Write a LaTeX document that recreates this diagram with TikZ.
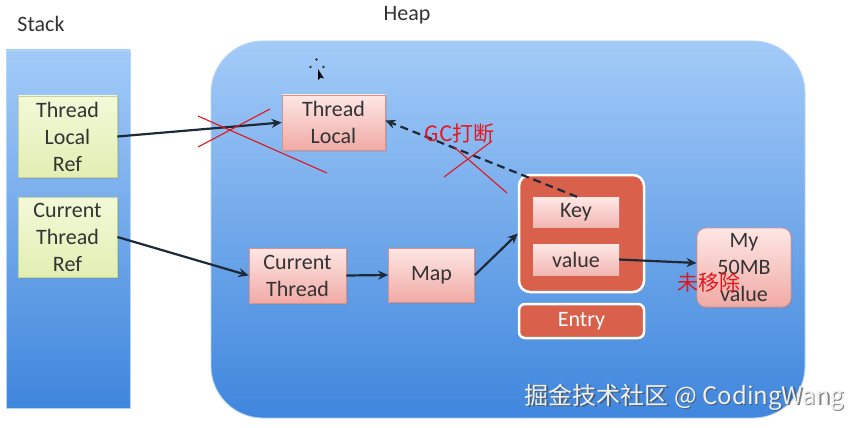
\documentclass[tikz,border=0pt]{standalone}
\usepackage{fontspec}
\setmainfont{Carlito}
\newfontfamily\cjk{Noto Sans CJK SC}
\usetikzlibrary{arrows.meta,shadows}
\definecolor{txt}{HTML}{333333}
\definecolor{bluetop}{HTML}{A3CBF8}
\definecolor{bluebot}{HTML}{3F86DD}
\definecolor{yeltop}{HTML}{F3F9D8}
\definecolor{yelbot}{HTML}{E2EEB3}
\definecolor{yelline}{HTML}{C5D596}
\definecolor{pinktop}{HTML}{FDE7E5}
\definecolor{pinkbot}{HTML}{F1AAA5}
\definecolor{pinkline}{HTML}{D8918C}
\definecolor{coral}{HTML}{D9614C}
\definecolor{arr}{HTML}{1E2A38}
\definecolor{redmark}{HTML}{E3161B}
\tikzset{
  lbl/.style={font=\fontsize{22}{27}\selectfont, text=txt, align=center, inner sep=0pt},
  stackbox/.style={lbl, draw=yelline, line width=0.8pt, top color=yeltop, bottom color=yelbot,
    drop shadow={shadow xshift=1.5pt, shadow yshift=-1.5pt, opacity=0.25}},
  heapbox/.style={lbl, draw=pinkline, line width=0.8pt, top color=pinktop, bottom color=pinkbot,
    drop shadow={shadow xshift=1.5pt, shadow yshift=-1.5pt, opacity=0.25}},
  entrybox/.style={draw=white, line width=2.5pt, fill=coral, rounded corners=11pt,
    drop shadow={shadow xshift=1.5pt, shadow yshift=-1.5pt, opacity=0.25}},
  kvbox/.style={lbl, draw=none, top color=pinktop, bottom color=pinkbot!85,
    drop shadow={shadow xshift=1.2pt, shadow yshift=-1.2pt, opacity=0.35}},
  conn/.style={draw=arr, line width=2.2pt, -{Stealth[length=10pt,width=9pt]}},
  weak/.style={conn, dash pattern=on 8pt off 5pt},
  cross/.style={draw=redmark, line width=1.1pt},
  redtxt/.style={font=\cjk\fontsize{21}{24}\selectfont, text=redmark, inner sep=0pt},
}
\begin{document}
\begin{tikzpicture}[x=1pt,y=-1pt]
\useasboundingbox (0,0) rectangle (868,428);
\fill[white] (0,0) rectangle (868,428);

% titles
\node[lbl, font=\fontsize{22}{27}\selectfont] (stacktitle) at (41,24) {Stack};
\node[lbl, font=\fontsize{22}{27}\selectfont] (heaptitle) at (407,15) {Heap};

% stack and heap regions
\draw[draw=bluetop!80!white, line width=0.8pt, top color=bluetop, bottom color=bluebot] (6,50) rectangle (130,408);
\draw[draw=bluetop!80!white, line width=0.8pt, top color=bluetop, bottom color=bluebot, rounded corners=52pt] (211,41) rectangle (805,418);

% cursor
\fill[black!80] (316.5,59.5) circle (1.3pt) (310.5,67) circle (1.3pt) (323.5,67) circle (1.3pt);
\fill[black] (318,69) -- (318,80) -- (320.5,77.5) -- (324,78.5) -- cycle;

% stack boxes
\node[stackbox, minimum width=99pt, minimum height=81pt] (tlr) at (67.5,136.5) {Thread\\Local\\Ref};
\node[stackbox, minimum width=99pt, minimum height=80pt] (ctr) at (67.5,237) {Current\\Thread\\Ref};

% heap boxes
\node[heapbox, minimum width=103pt, minimum height=55pt] (tl) at (333.5,122.5) {Thread\\Local};
\node[heapbox, minimum width=97pt, minimum height=55pt] (ct) at (297.5,275.5) {Current\\Thread};
\node[heapbox, minimum width=86pt, minimum height=54pt] (map) at (431.5,275) {Map};

\node[entrybox, minimum width=125pt, minimum height=117pt] (entry) at (581.5,233.5) {};
\node[kvbox, minimum width=86pt, minimum height=30pt] (key) at (576,212) {Key};
\node[kvbox, minimum width=86pt, minimum height=31pt] (val) at (576,259.5) {value};
\node[entrybox, lbl, text=white, minimum width=125pt, minimum height=34pt, rounded corners=6pt] (entrylbl) at (581.5,321) {Entry};

\node[heapbox, rounded corners=9pt, minimum width=94pt, minimum height=79pt] (my) at (744,267.5) {My\\50MB\\value};

% connectors
\draw[conn] (tlr.east) -- (tl.west);
\draw[conn] (ctr.east) -- (ct.west);
\draw[conn] (ct.east) -- (map.west);
\draw[conn] (map.east) -- (entry.west);
\draw[conn] (val.east) -- ([yshift=4.5pt]my.west);
\draw[weak] ([xshift=1pt]key.north) -- ([yshift=2pt]tl.east);

% red annotations
\draw[cross] (198,116) -- (327,173);
\draw[cross] (198,147) -- (270,109);
\draw[cross] (454,147) -- (507,193);
\draw[cross] (444,177) -- (492,141);
\node[redtxt] (gc) at (459.5,134) {GC打断};
\node[redtxt] (nr) at (708.5,282) {未移除};

% watermark
\node[font=\cjk\fontsize{24}{28}\selectfont, text=black!70, opacity=0.7, inner sep=0pt] at (685.8,398.8) {掘金技术社区 @ CodingWang};
\node[font=\cjk\fontsize{24}{28}\selectfont, text=white!94!black, inner sep=0pt] (wm) at (684.5,397.5) {掘金技术社区 @ CodingWang};
\end{tikzpicture}
\end{document}
